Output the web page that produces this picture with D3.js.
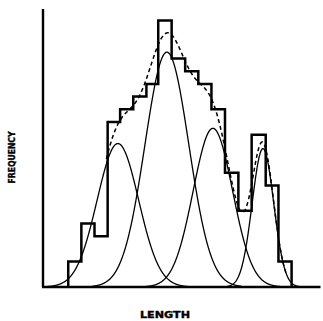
<!DOCTYPE html>
<html><head><meta charset="utf-8">
<script src="https://cdn.jsdelivr.net/npm/d3@7"></script>
<style>html,body{margin:0;padding:0;background:#fff;}svg{display:block;}</style>
</head><body>
<script>
// Histogram: bin edges (length units) and counts
const binEdges = [2, 3, 4, 5, 5.95, 6.95, 7.95, 8.85, 9.87, 10.9, 11.9, 12.9, 13.93, 14.95, 15.96, 17.03, 18, 19];
const counts   = [2, 5, 4, 13, 14, 15, 16, 21, 18, 17, 16, 14, 9, 6, 12, 8, 2];
// Fitted normal components
const compMeans  = [5.78, 9.51, 13.01, 16.82];
const compSigmas = [1.58, 1.67, 1.50, 0.82];
const compAmps   = [11.3, 18.5, 12.5, 10.9];
const xLabel = "LENGTH";
const yLabel = "FREQUENCY";

const W = 323, H = 321;
const svg = d3.select("body").append("svg").attr("width", W).attr("height", H);
const x = d3.scaleLinear().domain([0.08, 21.2]).range([43, 320.5]);
const y = d3.scaleLinear().domain([0, 21.9]).range([287, 9]);

const comp = (i, t) => compAmps[i] * Math.exp(-((t - compMeans[i]) ** 2) / (2 * compSigmas[i] ** 2));
const total = t => compMeans.reduce((s, _, i) => s + comp(i, t), 0);
const line = d3.line().x(d => x(d[0])).y(d => y(d[1]));

// components
compMeans.forEach((m, i) => {
  const s = compSigmas[i];
  const pts = d3.range(m - 3.4 * s, m + 3.4 * s + 1e-9, 0.02).map(t => [t, comp(i, t)]);
  svg.append("path").attr("d", line(pts)).attr("fill", "none")
    .attr("stroke", "#000").attr("stroke-width", 1.3);
});

// dashed envelope
const envPts = d3.range(4.9, 18.6, 0.02).map(t => [t, total(t)]);
svg.append("path").attr("d", line(envPts)).attr("fill", "none")
  .attr("stroke", "#000").attr("stroke-width", 1.5).attr("stroke-dasharray", "4,3");

// histogram outline
const hpts = [[binEdges[0], 0]];
counts.forEach((c, i) => { hpts.push([binEdges[i], c]); hpts.push([binEdges[i + 1], c]); });
hpts.push([binEdges[binEdges.length - 1], 0]);
svg.append("path").attr("d", line(hpts)).attr("fill", "none")
  .attr("stroke", "#000").attr("stroke-width", 2.5).attr("stroke-linejoin", "miter");

// axes
svg.append("line").attr("x1", x(0.08)).attr("x2", x(0.08)).attr("y1", y(21.9)).attr("y2", y(0))
  .attr("stroke", "#000").attr("stroke-width", 2.4);
svg.append("line").attr("x1", x(0.08) - 1).attr("x2", x(21.2)).attr("y1", y(0)).attr("y2", y(0))
  .attr("stroke", "#000").attr("stroke-width", 2.4);

// labels
svg.append("text").text(xLabel).attr("x", 165).attr("y", 317.8)
  .attr("text-anchor", "middle").attr("font-family", "DejaVu Sans, sans-serif")
  .attr("font-weight", "bold").attr("font-size", 9.5).attr("stroke", "#000").attr("stroke-width", 0.4)
  .attr("textLength", 50).attr("lengthAdjust", "spacingAndGlyphs");
svg.append("text").text(yLabel).attr("transform", "translate(15.2,157.5) rotate(-90)")
  .attr("text-anchor", "middle").attr("font-family", "DejaVu Sans, sans-serif")
  .attr("font-weight", "bold").attr("font-size", 9).attr("stroke", "#000").attr("stroke-width", 0.4)
  .attr("textLength", 52).attr("lengthAdjust", "spacingAndGlyphs");
</script>
</body></html>
